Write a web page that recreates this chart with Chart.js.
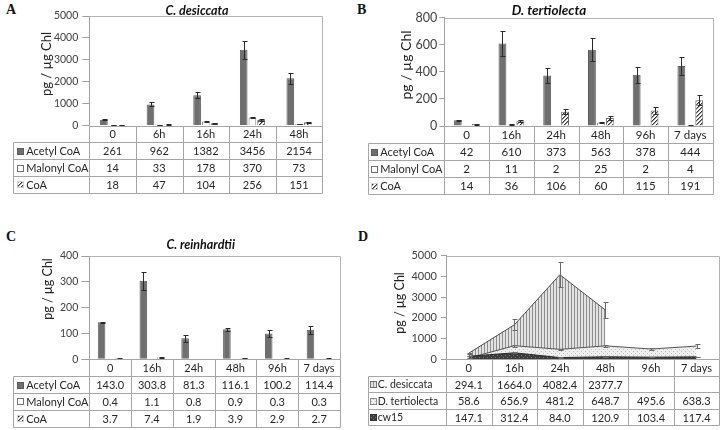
<!DOCTYPE html>
<html>
<head>
<meta charset="utf-8">
<script src="https://cdn.jsdelivr.net/npm/chart.js@4.4.1/dist/chart.umd.min.js"></script>
<style>
  body { margin: 0; background: #fff; width: 722px; height: 430px; position: relative; overflow: hidden; }
  canvas { position: absolute; }
  .lbl { position: absolute; font-family: 'Liberation Serif', serif; font-weight: bold; font-size: 14px; line-height: 1; color: #111; }
</style>
</head>
<body>
<div class="lbl" style="left:6px;top:3px">A</div>
<div class="lbl" style="left:357px;top:3px">B</div>
<div class="lbl" style="left:6px;top:230px">C</div>
<div class="lbl" style="left:358px;top:230px">D</div>
<canvas id="chart-a" width="361" height="215" style="left:0;top:0"></canvas>
<canvas id="chart-b" width="361" height="215" style="left:361px;top:0"></canvas>
<canvas id="chart-c" width="361" height="215" style="left:0;top:215px"></canvas>
<canvas id="chart-d" width="361" height="215" style="left:361px;top:215px"></canvas>
<script>
// A - C. desiccata
const catsA = ['0', '6h', '16h', '24h', '48h'];
const acetylA = [261, 962, 1382, 3456, 2154];
const malonylA = [14, 33, 178, 370, 73];
const coaA = [18, 47, 104, 256, 151];
const acetylErrA = [15, 90, 130, 400, 240];
const malonylErrA = [3, 6, 12, 25, 8];
const coaErrA = [4, 8, 20, 30, 20];

// B - D. tertiolecta
const catsB = ['0', '16h', '24h', '48h', '96h', '7 days'];
const acetylB = [42, 610, 373, 563, 378, 444];
const malonylB = [2, 11, 2, 25, 2, 4];
const coaB = [14, 36, 106, 60, 115, 191];
const acetylErrB = [5, 90, 55, 85, 57, 65];
const malonylErrB = [1, 3, 1, 5, 1, 1];
const coaErrB = [3, 8, 20, 12, 25, 38];

// C - C. reinhardtii
const catsC = ['0', '16h', '24h', '48h', '96h', '7 days'];
const acetylC = [143.0, 303.8, 81.3, 116.1, 100.2, 114.4];
const malonylC = [0.4, 1.1, 0.8, 0.9, 0.3, 0.3];
const coaC = [3.7, 7.4, 1.9, 3.9, 2.9, 2.7];
const acetylErrC = [1, 35, 14, 6, 13, 15];
const malonylErrC = [0.2, 0.5, 0.3, 0.3, 0.1, 0.1];
const coaErrC = [1, 2, 0.5, 1.5, 1, 0.5];

// D - comparaison
const catsD = ['0', '16h', '24h', '48h', '96h', '7 days'];
const desiccataD = [294.1, 1664.0, 4082.4, 2377.7, null, null];
const tertiolectaD = [58.6, 656.9, 481.2, 648.7, 495.6, 638.3];
const cw15D = [147.1, 312.4, 84.0, 120.9, 103.4, 117.4];
const desiccataErrD = [30, 260, 600, 370, null, null];
const tertiolectaErrD = [10, 50, 40, 40, 35, 80];
const cw15ErrD = [5, 30, 10, 10, 10, 10];

Chart.defaults.font.family = 'Lato';
Chart.defaults.color = '#404040';

function makeHatch(ctx){
    const c = document.createElement('canvas');
    c.width = 4; c.height = 4;
    const g = c.getContext('2d');
    g.fillStyle = '#fff'; g.fillRect(0, 0, 4, 4);
    for(let i = 0; i < 4; ++i){
        g.fillStyle = '#333';
        g.fillRect(i, 3 - i, 1, 1);
        g.fillStyle = '#9a9a9a';
        g.fillRect((i + 1) % 4, 3 - i, 1, 1);
    }
    return ctx.createPattern(c, 'repeat');
}

function makeStripes(ctx){
    const c = document.createElement('canvas');
    c.width = 3; c.height = 1;
    const g = c.getContext('2d');
    g.fillStyle = '#e2e2e2'; g.fillRect(0, 0, 3, 1);
    g.fillStyle = '#8e8e8e'; g.fillRect(0, 0, 1, 1);
    return ctx.createPattern(c, 'repeat');
}

function makeDots(ctx, bg, dot){
    const c = document.createElement('canvas');
    c.width = 4; c.height = 4;
    const g = c.getContext('2d');
    g.fillStyle = bg; g.fillRect(0, 0, 4, 4);
    g.fillStyle = dot; g.fillRect(0, 0, 1, 1); g.fillRect(2, 2, 1, 1);
    return ctx.createPattern(c, 'repeat');
}

function line(ctx, x1, y1, x2, y2){
    ctx.beginPath();
    ctx.moveTo(x1, y1);
    ctx.lineTo(x2, y2);
    ctx.stroke();
}

const px = v => Math.round(v) + 0.5;

// error bars, table under the plot, titles
const sheetPlugin = {
    id: 'sheet',
    afterDatasetsDraw(chart, args, o){
        const ctx = chart.ctx, y = chart.scales.y;
        ctx.save();
        ctx.strokeStyle = o.errColor;
        ctx.lineWidth = 1;
        o.errors.forEach((errs, i) => {
            const vals = chart.data.datasets[i].data;
            chart.getDatasetMeta(i).data.forEach((el, j) => {
                if (vals[j] == null || errs[j] == null) return;
                const x = px(el.x);
                const t = px(y.getPixelForValue(vals[j] + errs[j]));
                const b = px(y.getPixelForValue(Math.max(0, vals[j] - errs[j])));
                line(ctx, x, t, x, b);
                line(ctx, x - o.capW, t, x + o.capW + 1, t);
                line(ctx, x - o.capW, b, x + o.capW + 1, b);
            });
        });
        ctx.restore();
    },
    afterDraw(chart, args, o){
        const ctx = chart.ctx, a = chart.chartArea, x = chart.scales.x;
        const n = chart.data.labels.length;
        const half = (x.getPixelForValue(1) - x.getPixelForValue(0)) / 2;
        const top = a.bottom, rh = o.rowH;
        const bottom = top + rh * (o.rows.length + 1);
        ctx.save();
        ctx.lineWidth = 1;

        // plot border
        ctx.strokeStyle = o.borderColor;
        line(ctx, px(a.left), px(a.top), px(a.right), px(a.top));
        line(ctx, px(a.right), px(a.top), px(a.right), px(a.bottom));

        // table grid
        ctx.strokeStyle = o.lineColor;
        line(ctx, px(a.left), px(top), px(a.right), px(top));
        for(let r = 1; r <= o.rows.length + 1; ++r){
            line(ctx, px(o.tableLeft), px(top + r * rh), px(a.right), px(top + r * rh));
        }
        line(ctx, px(o.tableLeft), px(top + rh), px(o.tableLeft), px(bottom));
        line(ctx, px(a.left), px(top), px(a.left), px(bottom));
        for(let j = 0; j < n; ++j){
            const edge = x.getPixelForValue(j) + half;
            line(ctx, px(edge), px(top), px(edge), px(bottom));
        }

        // header + values
        ctx.fillStyle = o.textColor;
        ctx.font = o.fontSize + 'px Lato';
        ctx.textBaseline = 'middle';
        ctx.textAlign = 'center';
        chart.data.labels.forEach((lab, j) => {
            ctx.fillText(lab, x.getPixelForValue(j), top + rh / 2 + 1);
        });
        o.rows.forEach((row, r) => {
            const cy = top + (r + 1.5) * rh + 1;
            ctx.textAlign = 'center';
            ctx.fillStyle = o.textColor;
            row.values.forEach((v, j) => {
                if (v == null) return;
                ctx.fillText(v.toFixed(o.digits), x.getPixelForValue(j), cy);
            });
            ctx.textAlign = 'left';
            ctx.font = (o.labelSize || o.fontSize) + 'px Lato';
            ctx.fillText(row.label, o.tableLeft + o.textPad, cy);
            ctx.font = o.fontSize + 'px Lato';
            // swatch
            const sx = Math.round(o.tableLeft + o.swatchPad), sy = Math.round(cy - 4);
            ctx.fillStyle = row.swatch;
            ctx.fillRect(sx, sy, 7, 7);
            ctx.strokeStyle = row.swatchBorder;
            ctx.strokeRect(sx + 0.5, sy + 0.5, 6, 6);
        });

        // titles
        ctx.fillStyle = '#111';
        ctx.textAlign = 'center';
        if (o.title){
            ctx.font = 'italic bold ' + o.titleSize + 'px Lato';
            ctx.fillText(o.title, o.titleX, o.titleY);
        }
        ctx.font = o.yTitleSize + 'px Lato';
        ctx.fillStyle = '#222';
        ctx.translate(o.yTitleX, o.yTitleY);
        ctx.rotate(-Math.PI / 2);
        ctx.fillText('pg / µg Chl', 0, 0);
        ctx.restore();
    }
};

function yAxis(max, step, width, fontSize, tickLength, padding){
    return {
        min: 0,
        max: max,
        ticks: { stepSize: step, padding: padding, color: '#404040', font: { size: fontSize }, callback: v => String(v) },
        grid: { drawOnChartArea: false, drawTicks: true, tickLength: tickLength, color: '#a0a0a0' },
        border: { color: '#a0a0a0' },
        afterFit: function(scale){ scale.width = width; }
    };
}

// CHART A
const ctxA = document.getElementById('chart-a').getContext('2d');
const hatchA = makeHatch(ctxA);
new Chart(ctxA, {
    type: 'bar',
    data: {
        labels: catsA,
        datasets: [
            { data: acetylA, backgroundColor: '#6f6f6f', borderColor: '#5c5c5c', borderWidth: 1 },
            { data: malonylA, backgroundColor: '#ffffff', borderColor: '#8a8a8a', borderWidth: 1 },
            { data: coaA, backgroundColor: hatchA, borderColor: '#666666', borderWidth: 1 }
        ]
    },
    options: {
        responsive: false,
        animation: false,
        devicePixelRatio: 1,
        layout: { padding: { left: 0, top: 16, right: 38.7, bottom: 89.5 } },
        datasets: { bar: { categoryPercentage: 0.56, barPercentage: 0.88 } },
        scales: {
            x: { display: false },
            y: yAxis(5000, 1000, 89.3, 10.5, 7, 4)
        },
        plugins: {
            legend: { display: false },
            tooltip: { enabled: false },
            sheet: {
                errors: [acetylErrA, malonylErrA, coaErrA], errColor: '#2a2a2a', capW: 2,
                rows: [
                    { label: 'Acetyl CoA', values: acetylA, swatch: '#6f6f6f', swatchBorder: '#5c5c5c' },
                    { label: 'Malonyl CoA', values: malonylA, swatch: '#ffffff', swatchBorder: '#707070' },
                    { label: 'CoA', values: coaA, swatch: hatchA, swatchBorder: '#d0d0d0' }
                ],
                digits: 0, tableLeft: 13.3, rowH: 16.8, fontSize: 11, textPad: 13, swatchPad: 3.5,
                lineColor: '#a6a6a6', borderColor: '#b4b4b4', textColor: '#262626',
                title: 'C. desiccata', titleSize: 12.5, titleX: 197, titleY: 10.5,
                yTitleSize: 13, yTitleX: 47, yTitleY: 64
            }
        }
    },
    plugins: [sheetPlugin]
});

// CHART B
const ctxB = document.getElementById('chart-b').getContext('2d');
const hatchB = makeHatch(ctxB);
new Chart(ctxB, {
    type: 'bar',
    data: {
        labels: catsB,
        datasets: [
            { data: acetylB, backgroundColor: '#6f6f6f', borderColor: '#5c5c5c', borderWidth: 1 },
            { data: malonylB, backgroundColor: '#ffffff', borderColor: '#8a8a8a', borderWidth: 1 },
            { data: coaB, backgroundColor: hatchB, borderColor: '#666666', borderWidth: 1 }
        ]
    },
    options: {
        responsive: false,
        animation: false,
        devicePixelRatio: 1,
        layout: { padding: { left: 0, top: 17.7, right: 9.3, bottom: 89 } },
        datasets: { bar: { categoryPercentage: 0.6, barPercentage: 0.88 } },
        scales: {
            x: { display: false },
            y: yAxis(800, 200, 83.3, 12.5, 5, 2)
        },
        plugins: {
            legend: { display: false },
            tooltip: { enabled: false },
            sheet: {
                errors: [acetylErrB, malonylErrB, coaErrB], errColor: '#2a2a2a', capW: 2,
                rows: [
                    { label: 'Acetyl CoA', values: acetylB, swatch: '#6f6f6f', swatchBorder: '#5c5c5c' },
                    { label: 'Malonyl CoA', values: malonylB, swatch: '#ffffff', swatchBorder: '#707070' },
                    { label: 'CoA', values: coaB, swatch: hatchB, swatchBorder: '#d0d0d0' }
                ],
                digits: 0, tableLeft: 7.3, rowH: 17, fontSize: 11.5, labelSize: 11, textPad: 12, swatchPad: 3,
                lineColor: '#a6a6a6', borderColor: '#b4b4b4', textColor: '#262626',
                title: 'D. tertiolecta', titleSize: 13.5, titleX: 188, titleY: 10.5,
                yTitleSize: 14, yTitleX: 45, yTitleY: 65
            }
        }
    },
    plugins: [sheetPlugin]
});

// CHART C
const ctxC = document.getElementById('chart-c').getContext('2d');
const hatchC = makeHatch(ctxC);
new Chart(ctxC, {
    type: 'bar',
    data: {
        labels: catsC,
        datasets: [
            { data: acetylC, backgroundColor: '#6f6f6f', borderColor: '#5c5c5c', borderWidth: 1 },
            { data: malonylC, backgroundColor: '#ffffff', borderColor: '#8a8a8a', borderWidth: 1 },
            { data: coaC, backgroundColor: hatchC, borderColor: '#666666', borderWidth: 1 }
        ]
    },
    options: {
        responsive: false,
        animation: false,
        devicePixelRatio: 1,
        layout: { padding: { left: 0, top: 41, right: 21, bottom: 70.7 } },
        datasets: { bar: { categoryPercentage: 0.62, barPercentage: 0.88 } },
        scales: {
            x: { display: false },
            y: yAxis(400, 100, 89.3, 10.5, 8, 3)
        },
        plugins: {
            legend: { display: false },
            tooltip: { enabled: false },
            sheet: {
                errors: [acetylErrC, malonylErrC, coaErrC], errColor: '#2a2a2a', capW: 2,
                rows: [
                    { label: 'Acetyl CoA', values: acetylC, swatch: '#6f6f6f', swatchBorder: '#5c5c5c' },
                    { label: 'Malonyl CoA', values: malonylC, swatch: '#ffffff', swatchBorder: '#707070' },
                    { label: 'CoA', values: coaC, swatch: hatchC, swatchBorder: '#d0d0d0' }
                ],
                digits: 1, tableLeft: 13.3, rowH: 16.85, fontSize: 11, textPad: 13, swatchPad: 3.5,
                lineColor: '#a6a6a6', borderColor: '#b4b4b4', textColor: '#262626',
                title: 'C. reinhardtii', titleSize: 12.5, titleX: 200.7, titleY: 29.5,
                yTitleSize: 12.5, yTitleX: 48.3, yTitleY: 74
            }
        }
    },
    plugins: [sheetPlugin]
});

// CHART D
const ctxD = document.getElementById('chart-d').getContext('2d');
const stripesD = makeStripes(ctxD);
const dotsLightD = makeDots(ctxD, '#efefef', '#bdbdbd');
const dotsDarkD = makeDots(ctxD, '#3c3c3c', '#7a7a7a');
new Chart(ctxD, {
    type: 'line',
    data: {
        labels: catsD,
        datasets: [
            { data: desiccataD, fill: 'origin', backgroundColor: stripesD, borderColor: '#4a4a4a', borderWidth: 1, pointRadius: 0, order: 3 },
            { data: tertiolectaD, fill: 'origin', backgroundColor: dotsLightD, borderColor: '#555555', borderWidth: 1, pointRadius: 0, order: 2 },
            { data: cw15D, fill: 'origin', backgroundColor: dotsDarkD, borderColor: '#2a2a2a', borderWidth: 1, pointRadius: 0, order: 1 }
        ]
    },
    options: {
        responsive: false,
        animation: false,
        devicePixelRatio: 1,
        layout: { padding: { left: 0, top: 40.7, right: 2.7, bottom: 70.7 } },
        scales: {
            x: { display: false, offset: true },
            y: yAxis(5000, 1000, 85, 11, 5, 4)
        },
        plugins: {
            legend: { display: false },
            tooltip: { enabled: false },
            sheet: {
                errors: [desiccataErrD, tertiolectaErrD, cw15ErrD], errColor: '#6a6a6a', capW: 2,
                rows: [
                    { label: 'C. desiccata', values: desiccataD, swatch: stripesD, swatchBorder: '#707070' },
                    { label: 'D. tertiolecta', values: tertiolectaD, swatch: dotsLightD, swatchBorder: '#8a8a8a' },
                    { label: 'cw15', values: cw15D, swatch: dotsDarkD, swatchBorder: '#333333' }
                ],
                digits: 1, tableLeft: 6.7, rowH: 16.5, fontSize: 11, labelSize: 10.5, textPad: 10, swatchPad: 2,
                lineColor: '#a6a6a6', borderColor: '#b4b4b4', textColor: '#262626',
                title: null,
                yTitleSize: 12.5, yTitleX: 39, yTitleY: 88
            }
        }
    },
    plugins: [sheetPlugin]
});
</script>
</body>
</html>
